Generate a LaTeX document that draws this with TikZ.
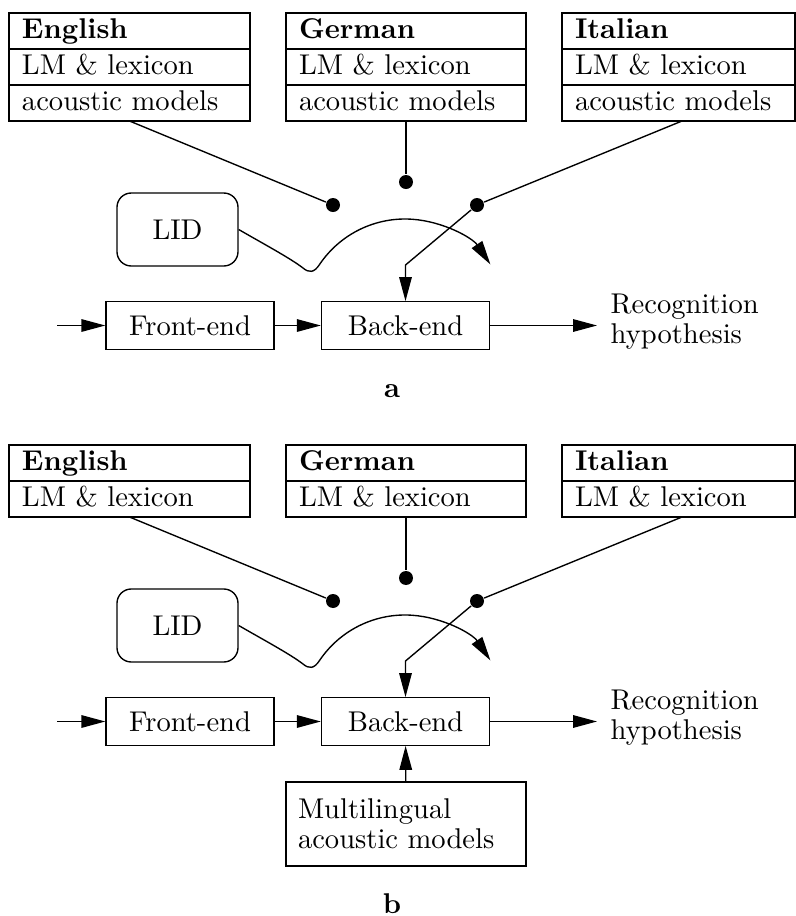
\documentclass[tikz,border=0pt]{standalone}
\usetikzlibrary{arrows.meta}
\tikzset{
  langrow/.style={draw, anchor=north west, outer sep=0pt, minimum height=12.6pt,
    inner xsep=4.55pt, inner ysep=0pt, align=left, text height=7pt, text depth=2pt,
    text width=#1},
  unit/.style={draw, minimum width=58.8pt, minimum height=16.6pt, inner sep=0pt},
  lidbox/.style={draw, rounded corners=5pt, minimum width=42.35pt, minimum height=25.55pt, inner sep=0pt},
  dot/.style={circle, fill, inner sep=0pt, minimum size=4.9pt},
  arr/.style={-{Triangle[length=8.4pt,width=4.4pt]}},
  twoline/.style={align=left, inner sep=0pt, font=\fontsize{10}{10.4}\selectfont},
}
\begin{document}
\begin{tikzpicture}[x=0.35pt, y=0.35pt, line width=0.48pt]
\useasboundingbox (0,0) rectangle (796,-916);

% ---------- configuration a: language-dependent acoustic models ----------
\node[langrow=75.25pt] (enA1) at (9,-13) {\textbf{English}};
\node[langrow=75.25pt] (enA2) at (enA1.south west) {LM \& lexicon};
\node[langrow=75.25pt] (enA3) at (enA2.south west) {acoustic models};
\node[langrow=74.9pt] (deA1) at (286,-13) {\textbf{German}};
\node[langrow=74.9pt] (deA2) at (deA1.south west) {LM \& lexicon};
\node[langrow=74.9pt] (deA3) at (deA2.south west) {acoustic models};
\node[langrow=72.45pt] (itA1) at (562,-13) {\textbf{Italian}};
\node[langrow=72.45pt] (itA2) at (itA1.south west) {LM \& lexicon};
\node[langrow=72.45pt] (itA3) at (itA2.south west) {acoustic models};

\node[dot] (dEA) at (333,-205) {};
\node[dot] (dDA) at (deA3.south |- 0,-182) {};
\node[dot] (dIA) at (477,-205) {};
\draw (enA3.south) -- (dEA);
\draw (deA3.south) -- (dDA);
\draw (itA3.south -| 682,0) -- (dIA);

\node[lidbox] (lidA) at (177.5,-229.5) {LID};
\node[unit] (feA) at (190,-325.5) {Front-end};
\node[unit] (beA) at (405.5,-325.5) {Back-end};
\coordinate (inA) at (57,-325.5);
\coordinate (outA) at (597,-325.5);
\coordinate (kinkA) at (405.5,-265);
\node[twoline, anchor=west] (hypA) at (610,-322) {Recognition\\hypothesis};

\draw[arr] (dIA) -- (kinkA) -- (beA.north);
\draw[arr] (lidA.east) .. controls (262,-243) and (290,-258) .. (303,-268)
  .. controls (309,-273) and (314,-273) .. (319.6,-264.4)
  arc[start angle=146, end angle=34, radius=103];
\draw[arr] (inA) -- (feA);
\draw[arr] (feA) -- (beA);
\draw[arr] (beA) -- (outA);
\node[font=\bfseries, anchor=base] (labA) at (392,-397) {a};

% ---------- configuration b: multilingual acoustic models ----------
\begin{scope}[yshift=-138.6pt]
\node[langrow=75.25pt] (enB1) at (9,-49) {\textbf{English}};
\node[langrow=75.25pt] (enB2) at (enB1.south west) {LM \& lexicon};
\node[langrow=74.9pt] (deB1) at (286,-49) {\textbf{German}};
\node[langrow=74.9pt] (deB2) at (deB1.south west) {LM \& lexicon};
\node[langrow=72.45pt] (itB1) at (562,-49) {\textbf{Italian}};
\node[langrow=72.45pt] (itB2) at (itB1.south west) {LM \& lexicon};

\node[dot] (dEB) at (333,-205) {};
\node[dot] (dDB) at (deB2.south |- 0,-182) {};
\node[dot] (dIB) at (477,-205) {};
\draw (enB2.south) -- (dEB);
\draw (deB2.south) -- (dDB);
\draw (itB2.south -| 682,0) -- (dIB);

\node[lidbox] (lidB) at (177.5,-229.5) {LID};
\node[unit] (feB) at (190,-325.5) {Front-end};
\node[unit] (beB) at (405.5,-325.5) {Back-end};
\coordinate (inB) at (57,-325.5);
\coordinate (outB) at (597,-325.5);
\coordinate (kinkB) at (405.5,-265);
\node[twoline, anchor=west] (hypB) at (610,-322) {Recognition\\hypothesis};
\node[draw, twoline, text width=75.6pt, inner xsep=4.2pt, minimum height=29.4pt] (mlB) at (406,-428)
  {Multilingual\\acoustic models};

\draw[arr] (dIB) -- (kinkB) -- (beB.north);
\draw[arr] (lidB.east) .. controls (262,-243) and (290,-258) .. (303,-268)
  .. controls (309,-273) and (314,-273) .. (319.6,-264.4)
  arc[start angle=146, end angle=34, radius=103];
\draw[arr] (inB) -- (feB);
\draw[arr] (feB) -- (beB);
\draw[arr] (beB) -- (outB);
\draw[arr] (mlB) -- (beB);
\node[font=\bfseries, anchor=base] (labB) at (392,-517) {b};
\end{scope}
\end{tikzpicture}
\end{document}
